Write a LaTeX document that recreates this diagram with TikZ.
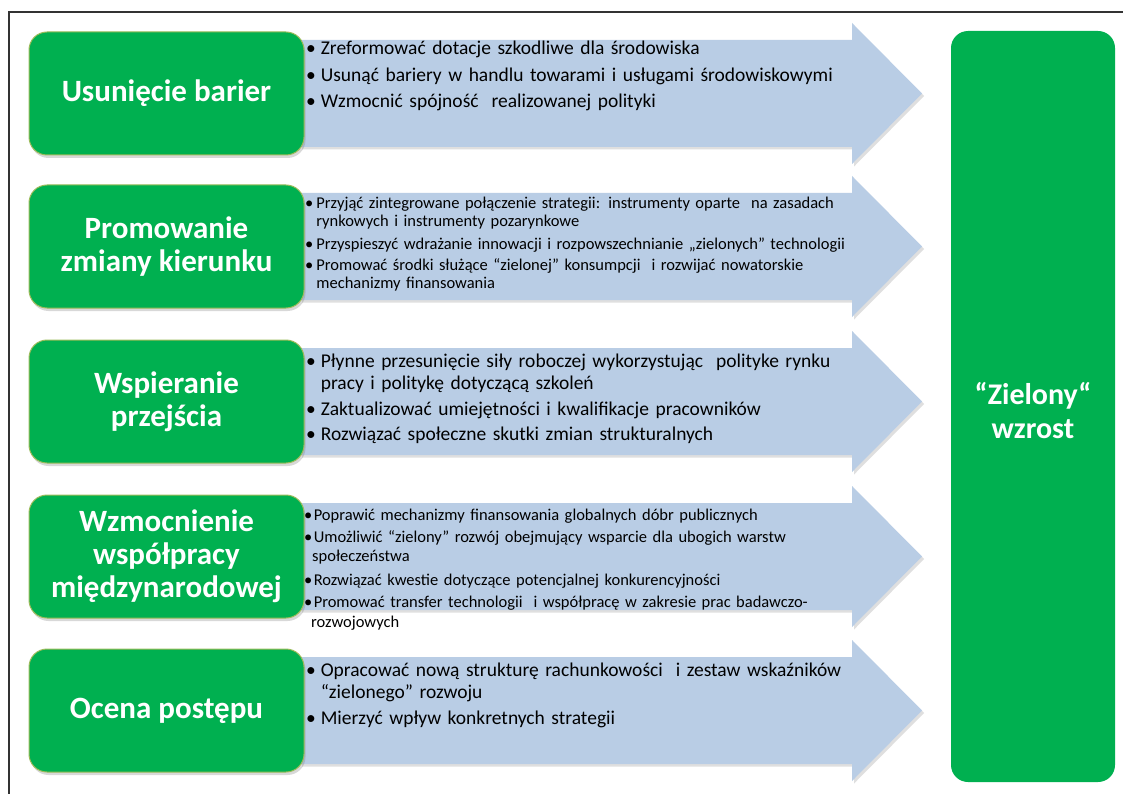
\documentclass[tikz,border=0pt]{standalone}
\usepackage{fontspec}
\setmainfont{Carlito}
\usetikzlibrary{shadows}
\definecolor{boxgreen}{HTML}{00B050}
\definecolor{boxedge}{HTML}{9BBB59}
\definecolor{arrowblue}{HTML}{B9CDE5}
\definecolor{framegray}{HTML}{333333}
\newcommand\bu[1][0.75em]{\makebox[#1][l]{\textbullet}}
\newcommand\hi[1][0.75em]{\hspace*{#1}}
\newcommand\bluearrow[1]{%
  \fill[arrowfill] (300,#1-53.5) -- (852,#1-53.5) -- (852,#1-70.5) -- (922,#1)
    -- (852,#1+70.5) -- (852,#1+53.5) -- (300,#1+53.5) -- cycle;}
\begin{document}
\begin{tikzpicture}[x=1pt,y=-1pt,
  titlebox/.style={draw=boxedge, line width=1pt, fill=boxgreen, rounded corners=18pt,
    minimum width=275pt, minimum height=123pt, align=center, text=white,
    font=\fontsize{31}{33}\selectfont\bfseries,
    drop shadow={shadow xshift=1.5pt, shadow yshift=-3pt, opacity=0.3}},
  goalbox/.style={fill=boxgreen, rounded corners=17pt, minimum width=164pt,
    minimum height=751pt},
  goaltext/.style={align=center, text=white, font=\fontsize{30}{34}\selectfont\bfseries},
  arrowfill/.style={fill=arrowblue,
    drop shadow={shadow xshift=2pt, shadow yshift=-2.5pt, opacity=0.25}},
  bullets/.style={anchor=base west, text width=640pt, align=left, inner sep=0pt, text=black},
  frameline/.style={draw=framegray, line width=1.3pt}
]
\useasboundingbox (0,0) rectangle (1123,794);
\fill[white] (0,0) rectangle (1123,794);
\draw[frameline] (9,794) -- (9,12) -- (1123,12);

% arrows
\bluearrow{93.5}
\bluearrow{246.5}
\bluearrow{401.5}
\bluearrow{556.5}
\bluearrow{710.5}

% title boxes
\node[titlebox] (t1) at (166.5,93.5) {Usunięcie barier};
\node[titlebox] (t2) at (166.5,246.5) {Promowanie\\zmiany kierunku};
\node[titlebox] (t3) at (166.5,401.5) {Wspieranie\\przejścia};
\node[titlebox] (t4) at (166.5,556.5) {Wzmocnienie\\współpracy\\międzynarodowej};
\node[titlebox] (t5) at (166.5,710.5) {Ocena postępu};

% goal box
\node[goalbox] (goal) at (1033,406.5) {};
\node[goaltext] (goaltxt) at (1033,410.5) {“Zielony“\\wzrost};

% bullet texts
\node[bullets, font=\fontsize{19.5}{26.5}\selectfont] (p1) at (306,55) {\bu Zreformować dotacje szkodliwe dla środowiska\\
\bu Usunąć bariery w handlu towarami i usługami środowiskowymi\\
\bu Wzmocnić spójność \ realizowanej polityki};

\node[bullets, font=\fontsize{16.5}{18}\selectfont] (p2) at (305,209) {\bu[0.68em]Przyjąć zintegrowane połączenie strategii: instrumenty oparte \ na zasadach\\
\hi[0.68em]rynkowych i instrumenty pozarynkowe\\[4pt]
\bu[0.68em]Przyspieszyć wdrażanie innowacji i rozpowszechnianie „zielonych” technologii\\[4pt]
\bu[0.68em]Promować środki służące “zielonej” konsumpcji \ i rozwijać nowatorskie\\
\hi[0.68em]mechanizmy finansowania};

\node[bullets, font=\fontsize{19.5}{22.5}\selectfont] (p3) at (306,367) {\bu Płynne przesunięcie siły roboczej wykorzystując \ polityke rynku\\
\hi pracy i politykę dotyczącą szkoleń\\[3pt]
\bu Zaktualizować umiejętności i kwalifikacje pracowników\\[3pt]
\bu Rozwiązać społeczne skutki zmian strukturalnych};

\node[bullets, font=\fontsize{16.5}{19}\selectfont] (p4) at (304,520) {\bu[0.58em]Poprawić mechanizmy finansowania globalnych dóbr publicznych\\[3pt]
\bu[0.58em]Umożliwić “zielony” rozwój obejmujący wsparcie dla ubogich warstw\\
\hi[8pt]społeczeństwa\\[5pt]
\bu[0.58em]Rozwiązać kwestie dotyczące potencjalnej konkurencyjności\\[3pt]
\bu[0.58em]Promować transfer technologii \ i współpracę w zakresie prac badawczo-\\[1pt]
\hi[7pt]rozwojowych};

\node[bullets, font=\fontsize{19.5}{22.5}\selectfont] (p5) at (306,676) {\bu Opracować nową strukturę rachunkowości \ i zestaw wskaźników\\
\hi “zielonego” rozwoju\\[3pt]
\bu Mierzyć wpływ konkretnych strategii};
\end{tikzpicture}
\end{document}
